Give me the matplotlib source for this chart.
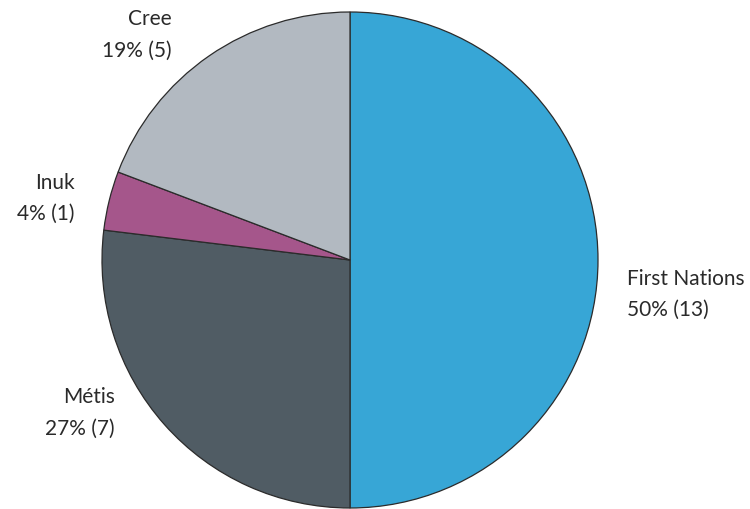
import matplotlib
matplotlib.use("Agg")
from matplotlib import pyplot as plt

groups = ["First Nations", "Métis", "Inuk", "Cree"]
counts = [13, 7, 1, 5]
colors = ["#37A6D6", "#505C64", "#A5568B", "#B2B9C1"]

# label anchors (data units, pie radius = 1) and horizontal alignment
label_pos = {
    "First Nations": (1.117, -0.135, "left"),
    "Métis": (-0.948, -0.612, "right"),
    "Inuk": (-1.109, 0.252, "right"),
    "Cree": (-0.718, 0.911, "right"),
}

plt.rcParams["font.family"] = ["Lato", "DejaVu Sans"]

fig = plt.figure(figsize=(7.5, 5.1), dpi=100)
ax = fig.add_axes([(350 - 248) / 750, (510 - 261 - 248) / 510, 496 / 750, 496 / 510])

ax.pie(
    counts,
    colors=colors,
    startangle=90,
    counterclock=False,
    radius=1.0,
    wedgeprops={"edgecolor": "#2b2b2b", "linewidth": 0.9},
)
ax.set_xlim(-1, 1)
ax.set_ylim(-1, 1)
ax.set_aspect("equal")
ax.axis("off")

total = sum(counts)
for name, n in zip(groups, counts):
    x, y, ha = label_pos[name]
    pct = round(100 * n / total)
    ax.text(
        x, y, f"{name}\n{pct}% ({n})",
        ha=ha, va="center", fontsize=15, color="#2a2a2a",
        linespacing=1.72, clip_on=False,
    )

fig.savefig("out.png", dpi=100)
